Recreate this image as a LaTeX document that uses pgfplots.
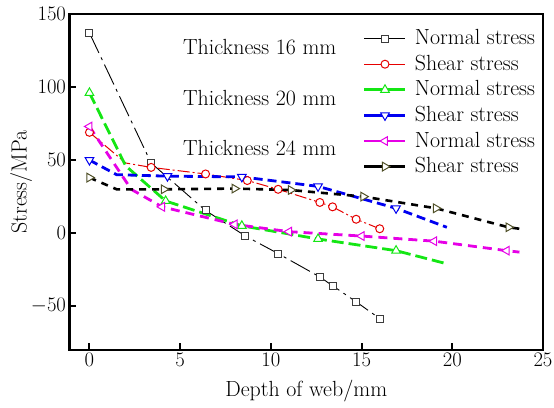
\documentclass[border=0pt]{standalone}
\usepackage{pgfplots}
\pgfplotsset{compat=1.18}
\definecolor{cgreen}{RGB}{20,230,20}
\definecolor{cmag}{RGB}{230,0,230}
\definecolor{cblue}{RGB}{0,0,240}
\definecolor{cred}{RGB}{230,0,0}
\definecolor{cgray}{RGB}{60,60,60}
\definecolor{colive}{RGB}{80,80,40}
\newcommand{\bigf}{\fontsize{22}{24}\selectfont}
\begin{document}
\begin{tikzpicture}
\begin{axis}[name=ax,
  scale only axis, width=473.5bp, height=336bp,
  xmin=-1.1, xmax=25, ymin=-80, ymax=150,
  xtick={0,5,...,25}, ytick={-50,0,...,150},
  tick align=inside, xtick pos=bottom, ytick pos=left,
  major tick length=7bp,
  axis line style={line width=2.2bp},
  every tick/.style={black, line width=2bp},
  tick label style={font=\bigf},
  xlabel={Depth of web/mm}, ylabel={Stress/MPa},
  label style={font=\bigf},
  xlabel style={yshift=-6bp},
  ylabel style={yshift=-8bp},
  legend cell align=left,
  legend image code/.code={\draw[mark repeat=2,mark phase=2,#1,solid,mark indices={2}] plot coordinates {(0bp,0bp) (20.5bp,0bp) (41bp,0bp)};},
  legend style={draw=none, fill=none, at={(1,1)}, anchor=north east, xshift=-8bp, yshift=-13.6bp,
    inner sep=0pt, outer sep=0pt, font=\bigf, row sep=3.6bp, column sep=8bp,
    nodes={inner sep=0pt, text height=17bp, text depth=5bp}},
]
% 16 mm normal
\addplot[black, line width=0.9bp, dash pattern={on 22bp off 5bp on 3bp off 5bp},
  mark=square*, mark size=3.5bp, mark options={solid, draw=cgray, fill=white, line width=1bp}]
  coordinates {(0,137) (3.4,48) (6.4,15.5) (8.6,-2) (10.4,-14) (12.7,-30) (13.4,-36) (14.7,-47) (16.0,-58.5)};
\addlegendentry{Normal stress}
% 16 mm shear
\addplot[cred, line width=1bp, dash pattern={on 12bp off 3bp on 2bp off 3bp},
  mark=*, mark size=4bp, mark indices={1,3,4,5,6,7,8,9,10}, mark options={solid, draw=cred, fill=white, line width=1bp}]
  coordinates {(0,69) (2,48) (3.4,45) (6.4,40.5) (8.7,36) (10.4,30) (12.7,21) (13.4,18) (14.7,9.5) (16.0,3)};
\addlegendentry{Shear stress}
% 20 mm normal
\addplot[cgreen, line width=2.8bp, dash pattern={on 12bp off 5bp},
  mark=triangle*, mark size=5bp, mark indices={1,3,4,5,6}, mark options={solid, draw=cgreen, fill=white, line width=1bp}]
  coordinates {(0,96) (2,46) (4.2,22) (8.4,5) (12.6,-4) (16.9,-12) (19.7,-21)};
\addlegendentry{Normal stress}
% 20 mm shear
\addplot[cblue, line width=2.8bp, dash pattern={on 9bp off 5bp},
  mark=triangle*, mark size=5bp, mark indices={1,3,4,5,6}, mark options={solid, rotate=180, draw=cblue, fill=white, line width=1bp}]
  coordinates {(0,50) (1.5,40) (4.3,39) (8.4,38.5) (12.6,32) (16.9,17) (19.7,4)};
\addlegendentry{Shear stress}
% 24 mm normal
\addplot[cmag, line width=2.8bp, dash pattern={on 9bp off 6bp},
  mark=triangle*, mark size=5bp, mark indices={1,3,4,5,6,7,8}, mark options={solid, rotate=90, draw=cmag, fill=white, line width=1bp}]
  coordinates {(0,73) (2.3,30) (4.0,18) (8.0,6) (11.0,1) (15.0,-2) (19.0,-5.5) (23.0,-12) (23.7,-13)};
\addlegendentry{Normal stress}
% 24 mm shear
\addplot[black, line width=2.6bp, dash pattern={on 7bp off 6bp},
  mark=triangle*, mark size=5bp, mark indices={1,3,4,5,6,7,8}, mark options={solid, rotate=-90, draw=colive, fill=white, line width=1bp}]
  coordinates {(0,38) (1.5,30) (4.1,30) (8.0,30.5) (11.1,29.5) (15.1,25) (19.1,17) (23.1,4) (23.7,3)};
\addlegendentry{Shear stress}
\node[anchor=west, font=\bigf, inner sep=0pt] at (axis cs:5.15,127.7) {Thickness 16 mm};
\node[anchor=west, font=\bigf, inner sep=0pt] at (axis cs:5.15,92.5) {Thickness 20 mm};
\node[anchor=west, font=\bigf, inner sep=0pt] at (axis cs:5.15,58) {Thickness 24 mm};
\end{axis}
\pgfresetboundingbox
\path ([shift={(-69.5bp,-58bp)}]ax.south west) rectangle ([shift={(11bp,14bp)}]ax.north east);
\end{tikzpicture}
\end{document}
